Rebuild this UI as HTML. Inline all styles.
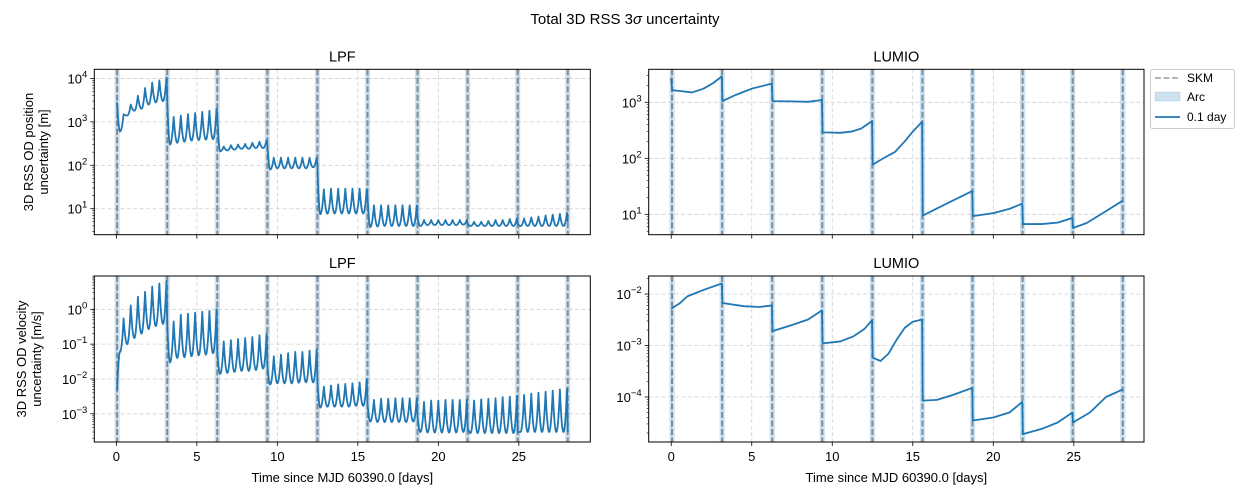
<!DOCTYPE html>
<html><head><meta charset="utf-8"><style>
body{margin:0;background:#fff;}
svg{display:block;font-family:"Liberation Sans","DejaVu Sans",sans-serif;}
</style></head><body>
<svg id="fig" width="1250" height="500" viewBox="0 0 1250 500" xmlns="http://www.w3.org/2000/svg">
<text x="625" y="24" text-anchor="middle" font-size="15">Total 3D RSS 3<tspan font-style="italic">σ</tspan> uncertainty</text>
</svg>
<script>
// ---- data ----
const skmTimes = [0.05,3.16,6.27,9.38,12.49,15.6,18.71,21.82,24.93,28.04];
const xTicks = [0,5,10,15,20,25];

const lpfPosInitial = [0, 2700];
const lpfPosPeaks = [
 [1500,2500,4000,6000,8000,9000,10500],
 [1300,1400,1500,1600,1700,1800,2000],
 [270,290,300,310,330,350,380],
 [150,150,150,150,150,150,150],
 [28,29,29,29,29,29,28],
 [12,12,12,12,12,12,12],
 [5.5,5.5,5.5,5.5,5.5,5.5,5.5],
 [5,5,5.2,5.5,5.5,5.8,6],
 [6,6.3,6.6,7,7.3,7.6,8]
];
const lpfPosTroughs = [
 [600,1400,1800,2000,2500,2800,3000],
 [300,330,350,370,380,390,400],
 [210,220,230,240,240,250,250],
 [80,85,85,85,85,85,90],
 [7.5,7.7,7.8,7.8,7.8,7.8,7.8],
 [3.8,3.9,4,4,4,4,4],
 [4,4.2,4.2,4.2,4.2,4.2,4.3],
 [4,4,4,4,4,4,4],
 [4,4,4,4,4,4,4]
];
const lpfPosEnd = [3300,1500,300,100,20,6,4.5,4.5,5];

const lpfVelInitial = [0, 0.005];
const lpfVelPeaks = [
 [0.55,1.3,2.3,3.2,4.5,5.5,6.5],
 [0.45,0.7,0.75,0.8,0.85,0.9,1.0],
 [0.12,0.13,0.14,0.15,0.16,0.18,0.2],
 [0.045,0.05,0.055,0.06,0.06,0.065,0.07],
 [0.006,0.0065,0.007,0.0072,0.0075,0.008,0.01],
 [0.0025,0.0027,0.0027,0.0028,0.0028,0.0028,0.0028],
 [0.0022,0.0024,0.0024,0.0025,0.0025,0.0025,0.0026],
 [0.0024,0.0026,0.0027,0.0028,0.003,0.0031,0.0033],
 [0.0035,0.0038,0.004,0.0043,0.0046,0.005,0.0053]
];
const lpfVelTroughs = [
 [0.06,0.1,0.15,0.2,0.27,0.33,0.38],
 [0.03,0.04,0.042,0.045,0.048,0.05,0.055],
 [0.014,0.015,0.016,0.017,0.017,0.018,0.02],
 [0.007,0.0075,0.0075,0.0075,0.0078,0.008,0.008],
 [0.0015,0.0016,0.0016,0.0016,0.0016,0.0017,0.0017],
 [0.0006,0.00058,0.00058,0.00058,0.00058,0.00058,0.0006],
 [0.0003,0.00029,0.00029,0.00029,0.00029,0.00029,0.0003],
 [0.00028,0.00028,0.00028,0.00028,0.00028,0.00028,0.00028],
 [0.0003,0.0003,0.0003,0.0003,0.0003,0.0003,0.0003]
];
const lpfVelEnd = [0.4,0.06,0.025,0.009,0.002,0.0008,0.0004,0.0003,0.0003];

const lumioPosT = [0,0.05,0.6,1.3,2.0,2.6,3.14, 3.18,4.0,5.0,6.25, 6.29,7.5,8.5,9.36, 9.4,10.5,11.2,11.8,12.47, 12.51,13.3,13.9,14.5,15.0,15.58, 15.62,17.0,18.69, 18.73,20.0,21.0,21.8, 21.84,23.0,24.0,24.91, 24.95,25.8,26.8,28.04];
const lumioPosV = [2700,1650,1580,1500,1750,2200,2900, 1050,1350,1750,2150, 1050,1040,1020,1100, 290,285,300,340,460, 77,105,130,200,300,450, 9.5,15,26, 9.3,10.5,12.5,15.5, 6.7,6.7,7.1,8.6, 5.7,7,10.5,17.5];
const lumioVelT = [0,0.5,1.0,2.0,3.14, 3.18,4.5,5.5,6.25, 6.29,7.5,8.5,9.36, 9.4,10.5,11.3,12.0,12.47, 12.51,13.0,13.5,14.0,14.5,15.0,15.58, 15.62,16.5,17.5,18.69, 18.73,20.0,21.0,21.8, 21.84,23.0,24.0,24.91, 24.95,26.0,27.0,28.04];
const lumioVelV = [0.0052,0.0065,0.009,0.012,0.016, 0.0067,0.0058,0.0056,0.006, 0.0019,0.0025,0.0032,0.0048, 0.0011,0.0012,0.0015,0.0021,0.0031, 0.00058,0.0005,0.0007,0.0013,0.0022,0.0029,0.0032, 0.000085,0.000088,0.00011,0.00015, 0.000035,0.00004,0.00005,0.00008, 0.000019,0.000024,0.000032,0.00005, 0.000032,0.00005,0.0001,0.00014];

// ---- axes ----
const NS='http://www.w3.org/2000/svg';
const svg=document.getElementById('fig');
function mk(tag,attrs,parent){const e=document.createElementNS(NS,tag);for(const k in attrs)e.setAttribute(k,attrs[k]);(parent||svg).appendChild(e);return e;}
const AX = {
 tl:{x0:94.3,x1:590.3,y0:69.3,y1:234.7,xmin:-1.37,xmax:29.44,lmin:0.402,lmax:4.21,decs:[1,2,3,4],title:'LPF',name:'lpf-position'},
 tr:{x0:648.7,x1:1144,y0:69.3,y1:234.7,xmin:-1.40,xmax:29.36,lmin:0.636,lmax:3.589,decs:[1,2,3],title:'LUMIO',name:'lumio-position'},
 bl:{x0:94.3,x1:590.3,y0:276,y1:442,xmin:-1.37,xmax:29.44,lmin:-3.81,lmax:0.957,decs:[-3,-2,-1,0],title:'LPF',name:'lpf-velocity',xl:true},
 br:{x0:648.7,x1:1144,y0:276,y1:442,xmin:-1.40,xmax:29.36,lmin:-4.874,lmax:-1.65,decs:[-4,-3,-2],title:'LUMIO',name:'lumio-velocity',xl:true}
};
function sx(a,t){return a.x0+(t-a.xmin)/(a.xmax-a.xmin)*(a.x1-a.x0);}
function sy(a,v){return a.y1-(Math.log10(v)-a.lmin)/(a.lmax-a.lmin)*(a.y1-a.y0);}
function syl(a,l){return a.y1-(l-a.lmin)/(a.lmax-a.lmin)*(a.y1-a.y0);}

function drawAxes(a){
 const g=mk('g',{});
 
 
 mk('defs',{},g).innerHTML='<clipPath id="clip-'+a.name+'"><rect x="'+a.x0+'" y="'+a.y0+'" width="'+(a.x1-a.x0)+'" height="'+(a.y1-a.y0)+'"/></clipPath>';
 // grid
 xTicks.forEach(t=>{const x=sx(a,t);const l=mk('line',{x1:x,x2:x,y1:a.y0,y2:a.y1,stroke:'#d0d0d0','stroke-width':0.8,'stroke-dasharray':'4,2.5'},g);
  
  });
 a.decs.forEach(d=>{const y=syl(a,d);const l=mk('line',{x1:a.x0,x2:a.x1,y1:y,y2:y,stroke:'#d0d0d0','stroke-width':0.8,'stroke-dasharray':'4,2.5'},g);
  
  });
 // arcs & SKM
 skmTimes.forEach(t=>{const x=sx(a,t);
  const r=mk('rect',{x:x-2.6,y:a.y0,width:5.2,height:a.y1-a.y0,fill:'#1f77b4','fill-opacity':0.22},g);
  
  
  const l=mk('line',{x1:x,x2:x,y1:a.y0,y2:a.y1,stroke:'#7f8c99','stroke-width':2,'stroke-dasharray':'6,2.5'},g);
  
  });
 // ticks
 xTicks.forEach(t=>{const x=sx(a,t);mk('line',{x1:x,x2:x,y1:a.y1,y2:a.y1+4,stroke:'#000','stroke-width':0.8},g);
  if(a.xl){const tx=mk('text',{x:x,y:a.y1+19,'text-anchor':'middle','font-size':13},g);tx.textContent=t;
   
   }});
 for(let d=Math.floor(a.lmin);d<=Math.ceil(a.lmax);d++){
  for(let m=1;m<10;m++){const l=d+Math.log10(m);if(l<a.lmin||l>a.lmax)continue;const y=syl(a,l);
   mk('line',{x1:a.x0-(m==1?4:2),x2:a.x0,y1:y,y2:y,stroke:'#000','stroke-width':m==1?0.8:0.6},g);}
 }
 a.decs.forEach(d=>{const y=syl(a,d);const tx=mk('text',{x:a.x0-7,y:y+5,'text-anchor':'end','font-size':13},g);
  tx.innerHTML='10<tspan dy="-6" font-size="9.5">'+(d<0?'−'+(-d):d)+'</tspan>';
  
  });
 const fr=mk('rect',{x:a.x0,y:a.y0,width:a.x1-a.x0,height:a.y1-a.y0,fill:'none',stroke:'#000','stroke-width':1},g);
 
 
 const ti=mk('text',{x:(a.x0+a.x1)/2,y:a.y0-8,'text-anchor':'middle','font-size':14.5},g);ti.textContent=a.title;
 
 
 if(a.xl){const xl=mk('text',{x:(a.x0+a.x1)/2,y:a.y1+40,'text-anchor':'middle','font-size':13},g);xl.textContent='Time since MJD 60390.0 [days]';
  
  }
 return g;
}
function halfPar(pts,a,tc,lc,tt,lt,fromCusp){
 const N=8;
 for(let j=1;j<=N;j++){const u=j/N;const t=fromCusp?tc+(tt-tc)*u:tt+(tc-tt)*u;
  const f=(t-tt)/(tc-tt);const l=lt+(lc-lt)*f*f;pts.push([sx(a,t),syl(a,l)]);}
}
function oscSeries(a,init,peaks,troughs,ends,name){
 const pts=[[sx(a,init[0]),sy(a,init[1])]];
 let prevV=init[1];
 peaks.forEach((pk,k)=>{
  const t0=skmTimes[k],t1=skmTimes[k+1],n=pk.length,P=(t1-t0)/n;
  let ct=t0,cl=Math.log10(prevV);
  pts.push([sx(a,t0),syl(a,cl)]);
  for(let i=0;i<n;i++){
   const tt=t0+(i+0.4)*P,lt=Math.log10(troughs[k][i]);
   const tp=t0+(i+0.9)*P,lp=Math.log10(pk[i]);
   halfPar(pts,a,ct,cl,tt,lt,true);
   halfPar(pts,a,tp,lp,tt,lt,false);
   ct=tp;cl=lp;
  }
  const le=Math.log10(ends[k]);
  pts.push([sx(a,t1),syl(a,le)]);
  prevV=ends[k];
 });
 const p=mk('path',{d:'M'+pts.map(q=>q[0].toFixed(2)+','+q[1].toFixed(2)).join('L'),fill:'none',stroke:'#1f77b4','stroke-width':1.8,'stroke-linejoin':'round','clip-path':'url(#clip-'+a.name+')'});
 
 
}
function lineSeries(a,T,V,name){
 const pts=T.map((t,i)=>[sx(a,t),sy(a,V[i])]);
 const p=mk('path',{d:'M'+pts.map(q=>q[0].toFixed(2)+','+q[1].toFixed(2)).join('L'),fill:'none',stroke:'#1f77b4','stroke-width':1.8,'stroke-linejoin':'round','clip-path':'url(#clip-'+a.name+')'});
 
 
}
Object.values(AX).forEach(drawAxes);
oscSeries(AX.tl,lpfPosInitial,lpfPosPeaks,lpfPosTroughs,lpfPosEnd,'lpf-position-line');
oscSeries(AX.bl,lpfVelInitial,lpfVelPeaks,lpfVelTroughs,lpfVelEnd,'lpf-velocity-line');
lineSeries(AX.tr,lumioPosT,lumioPosV,'lumio-position-line');
lineSeries(AX.br,lumioVelT,lumioVelV,'lumio-velocity-line');

// y labels
function ylab(x1,x2,yc,l1,l2,name){
 const t=mk('text',{transform:'translate('+x1+','+yc+') rotate(-90)','text-anchor':'middle','font-size':13});
 t.innerHTML='<tspan x="0" y="0">'+l1+'</tspan><tspan x="0" y="'+(x2-x1)+'">'+l2+'</tspan>';
 
 
}
ylab(33,48,152,'3D RSS OD position','uncertainty [m]','position-y-axis-title');
ylab(26,41,359,'3D RSS OD velocity','uncertainty [m/s]','velocity-y-axis-title');

// legend
const lg=mk('g',{});


mk('rect',{x:1150.5,y:69.5,width:84,height:59,rx:2,fill:'#fff',stroke:'#ccc','stroke-width':1},lg);
mk('line',{x1:1155,x2:1180,y1:78,y2:78,stroke:'#aaa','stroke-width':1.8,'stroke-dasharray':'6,2.5'},lg);
mk('rect',{x:1155,y:92,width:25,height:9,fill:'#1f77b4','fill-opacity':0.22,stroke:'#1f77b4','stroke-opacity':0.15},lg);
mk('line',{x1:1155,x2:1180,y1:117,y2:117,stroke:'#1f77b4','stroke-width':1.8},lg);
[['SKM',82,'legend-entry-skm'],['Arc',101,'legend-entry-arc'],['0.1 day',121,'legend-entry-0.1-day']].forEach(e=>{
 const t=mk('text',{x:1187,y:e[1],'font-size':12},lg);t.textContent=e[0];
 
 
});
</script>
</body></html>
